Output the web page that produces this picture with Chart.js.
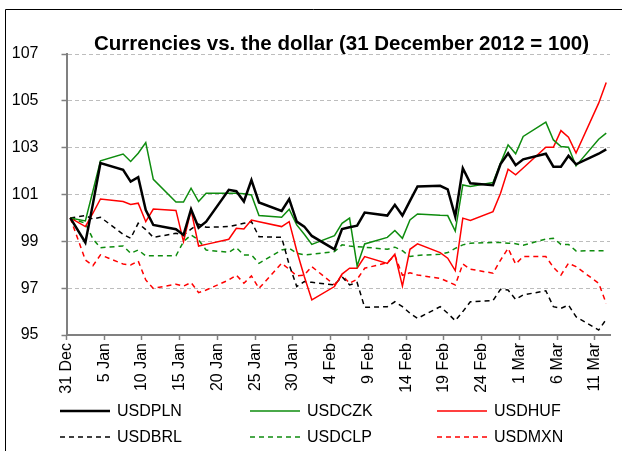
<!DOCTYPE html>
<html>
<head>
<meta charset="utf-8">
<script src="https://cdn.jsdelivr.net/npm/chart.js@4.4.1/dist/chart.umd.min.js"></script>
<style>
  html, body { margin: 0; padding: 0; background: #ffffff; }
  #chart { display: block; }
</style>
</head>
<body>
<canvas id="chart" width="627" height="451"></canvas>
<script>
// trading days plotted (31 Dec 2012 = 100)
const DATES = [
    "2012-12-31", "2013-01-02", "2013-01-03", "2013-01-04",
    "2013-01-07", "2013-01-08", "2013-01-09", "2013-01-10", "2013-01-11",
    "2013-01-14", "2013-01-15", "2013-01-16", "2013-01-17", "2013-01-18",
    "2013-01-21", "2013-01-22", "2013-01-23", "2013-01-24", "2013-01-25",
    "2013-01-28", "2013-01-29", "2013-01-30", "2013-01-31", "2013-02-01",
    "2013-02-04", "2013-02-05", "2013-02-06", "2013-02-07", "2013-02-08",
    "2013-02-11", "2013-02-12", "2013-02-13", "2013-02-14", "2013-02-15",
    "2013-02-18", "2013-02-19", "2013-02-20", "2013-02-21", "2013-02-22",
    "2013-02-25", "2013-02-26", "2013-02-27", "2013-02-28", "2013-03-01",
    "2013-03-04", "2013-03-05", "2013-03-06", "2013-03-07", "2013-03-08",
    "2013-03-11", "2013-03-12",
];

const USDPLN = [
    100.0, 98.95, 100.6, 102.34,
    102.05, 101.55, 101.74, 100.34, 99.7,
    99.52, 99.27, 100.37, 99.58, 99.84,
    101.2, 101.14, 100.7, 101.62, 100.66,
    100.3, 100.8, 99.84, 99.63, 99.23,
    98.66, 99.52, 99.6, 99.67, 100.23,
    100.1, 100.56, 100.1, 100.73, 101.34,
    101.37, 101.22, 100.06, 102.12, 101.48,
    101.4, 102.3, 102.76, 102.25, 102.5,
    102.74, 102.19, 102.19, 102.65, 102.29,
    102.74, 102.93,
];

const USDCZK = [
    100.0, 99.87, 101.15, 102.44,
    102.73, 102.41, 102.76, 103.22, 101.65,
    100.68, 100.68, 101.27, 100.7, 101.05,
    101.05, 101.05, 101.03, 100.98, 100.1,
    100.03, 100.37, 99.7, 99.3, 98.87,
    99.24, 99.77, 99.99, 97.95, 98.89,
    99.17, 99.46, 99.13, 99.91, 100.17,
    100.11, 100.1, 99.44, 101.41, 101.34,
    101.51, 102.34, 103.12, 102.74, 103.48,
    104.09, 103.33, 103.05, 103.02, 102.22,
    103.36, 103.62,
];

const USDHUF = [
    100.0, 99.63, 100.2, 100.81,
    100.7, 100.57, 100.63, 99.84, 100.38,
    100.32, 98.99, 100.34, 98.8, 98.87,
    99.09, 99.56, 99.53, 99.91, 99.84,
    99.63, 99.84, 98.6, 97.5, 96.5,
    97.07, 97.6, 97.85, 97.85, 98.35,
    98.06, 98.45, 97.09, 98.66, 98.89,
    98.52, 98.28, 97.75, 99.99, 99.89,
    100.27, 101.05, 102.08, 101.84, 102.13,
    103.02, 103.02, 103.73, 103.45, 102.77,
    104.9, 105.78,
];

const USDBRL = [
    100.0, 100.1, 99.95, 100.03,
    99.3, 99.13, 99.77, 99.5, 99.17,
    99.34, 99.27, 99.52, 99.74, 99.6,
    99.63, 99.7, 99.77, 99.84, 99.2,
    99.17, 98.0, 97.07, 97.28, 97.25,
    97.14, 97.49, 97.14, 97.24, 96.18,
    96.21, 96.42, 96.21, 95.93, 95.71,
    96.21, 95.93, 95.61, 96.0, 96.42,
    96.47, 96.95, 96.92, 96.52, 96.71,
    96.89, 96.21, 96.14, 96.28, 95.78,
    95.21, 95.67,
];

const USDCLP = [
    100.0, 99.77, 99.1, 98.73,
    98.8, 98.49, 98.63, 98.38, 98.38,
    98.38, 98.99, 99.27, 99.06, 98.63,
    98.53, 98.73, 98.42, 98.42, 98.06,
    98.63, 98.7, 98.49, 98.42, 98.45,
    98.56, 98.85, 98.8, 98.77, 98.75,
    98.66, 98.75, 98.6, 98.35, 98.4,
    98.45, 98.52, 98.7, 98.85, 98.92,
    98.95, 98.95, 98.92, 98.9, 98.83,
    99.1, 99.13, 98.87, 98.87, 98.59,
    98.6, 98.6,
];

const USDMXN = [
    100.0, 98.2, 97.96, 98.42,
    98.03, 97.99, 98.16, 97.35, 96.99,
    97.17, 97.09, 97.24, 96.81, 96.92,
    97.35, 97.56, 97.21, 97.52, 96.99,
    98.06, 97.81, 97.52, 97.56, 97.92,
    97.14, 97.56, 97.21, 97.38, 97.85,
    98.09, 98.4, 97.55, 97.66, 97.56,
    97.42, 97.28, 97.14, 98.03, 97.81,
    97.64, 98.2, 98.7, 98.03, 98.35,
    98.35, 97.89, 97.56, 98.06, 97.92,
    97.21, 96.35,
];

// x axis: days since 31 Dec, a tick every 5 days
const TICK_DAYS = [0, 5, 10, 15, 20, 25, 30, 35, 40, 45, 50, 55, 60, 65, 70];
const TICK_LABELS = [
    "31 Dec", "5 Jan", "10 Jan", "15 Jan", "20 Jan", "25 Jan", "30 Jan",
    "4 Feb", "9 Feb", "14 Feb", "19 Feb", "24 Feb", "1 Mar", "6 Mar", "11 Mar",
];
const Y_MIN = 95;
const Y_MAX = 107;
const Y_STEP = 2;

const TITLE = "Currencies vs. the dollar (31 December 2012 = 100)";
const FONT = "'Liberation Sans', Arial, Helvetica, sans-serif";
const GREEN = "#0e8c0e";

// labels in the original are set in a narrow face; use it when it is installed
function fontAvailable(name) {
    const probe = document.createElement("canvas").getContext("2d");
    const sample = "USDPLN 31 Dec 107";
    probe.font = "40px monospace";
    const fallback = probe.measureText(sample).width;
    probe.font = `40px '${name}', monospace`;
    return probe.measureText(sample).width !== fallback;
}

const HAS_NARROW = fontAvailable("Liberation Sans Narrow");
const LABEL_FONT = HAS_NARROW ? `'Liberation Sans Narrow', ${FONT}` : FONT;
const LABEL_SIZE = HAS_NARROW ? 19.5 : 16;

const SERIES = [
    { label: "USDPLN", values: USDPLN, color: "#000000", width: 2.5, dash: [] },
    { label: "USDCZK", values: USDCZK, color: GREEN, width: 1.5, dash: [] },
    { label: "USDHUF", values: USDHUF, color: "#ff0000", width: 1.5, dash: [] },
    { label: "USDBRL", values: USDBRL, color: "#000000", width: 1.5, dash: [5, 4] },
    { label: "USDCLP", values: USDCLP, color: GREEN, width: 1.5, dash: [5, 4] },
    { label: "USDMXN", values: USDMXN, color: "#ff0000", width: 1.5, dash: [5, 4] },
];

const BASE_DAY = Date.UTC(2012, 11, 31);

function dayOffset(iso) {
    const [y, m, d] = iso.split("-").map(Number);
    return (Date.UTC(y, m - 1, d) - BASE_DAY) / 86400000;
}

// date axis, points sit in the middle of their day slot
function buildDataset(series) {
    return {
        label: series.label,
        data: DATES.map((date, i) => ({ x: dayOffset(date) + 0.5, y: series.values[i] })),
        borderColor: series.color,
        backgroundColor: series.color,
        borderWidth: series.width,
        borderDash: series.dash,
        pointRadius: 0,
        pointHoverRadius: 0,
        tension: 0,
        fill: false,
    };
}

const decorPlugin = {
    id: "decor",
    beforeDraw(chart) {
        const { ctx, width, height } = chart;
        ctx.save();
        ctx.fillStyle = "#ffffff";
        ctx.fillRect(0, 0, width, height);
        ctx.restore();
    },
    afterDraw(chart) {
        const { ctx } = chart;
        ctx.save();

        // frame (only top and left edge are inside the picture)
        ctx.strokeStyle = "#000000";
        ctx.lineWidth = 1;
        ctx.beginPath();
        ctx.moveTo(5.5, 451);
        ctx.lineTo(5.5, 9.5);
        ctx.lineTo(622, 9.5);
        ctx.stroke();

        // title
        ctx.fillStyle = "#000000";
        ctx.font = `bold 20.5px ${FONT}`;
        ctx.textAlign = "center";
        ctx.textBaseline = "alphabetic";
        ctx.fillText(TITLE, 341.5, 50);

        // legend, 3 columns x 2 rows
        const colX = [60, 250, 437];
        const rowY = [411, 437];
        ctx.font = `${LABEL_SIZE}px ${LABEL_FONT}`;
        ctx.textAlign = "left";
        ctx.textBaseline = "middle";
        chart.data.datasets.forEach((ds, i) => {
            const x0 = colX[i % 3];
            const y = rowY[Math.floor(i / 3)];
            ctx.strokeStyle = ds.borderColor;
            ctx.lineWidth = ds.borderWidth;
            ctx.setLineDash(ds.borderDash);
            ctx.beginPath();
            ctx.moveTo(x0, y);
            ctx.lineTo(x0 + 50, y);
            ctx.stroke();
            ctx.setLineDash([]);
            ctx.fillStyle = "#000000";
            ctx.fillText(ds.label, x0 + 57, y + 1);
        });
        ctx.restore();
    },
};

Chart.defaults.font.family = LABEL_FONT;
Chart.defaults.font.size = LABEL_SIZE;
Chart.defaults.color = "#000000";

new Chart(document.getElementById("chart"), {
    type: "line",
    data: { datasets: SERIES.map(buildDataset) },
    options: {
        responsive: false,
        animation: false,
        devicePixelRatio: 1,
        events: [],
        layout: { padding: { top: 54, right: 17, bottom: 0, left: 0 } },
        plugins: {
            legend: { display: false },
            title: { display: false },
            tooltip: { enabled: false },
        },
        scales: {
            x: {
                type: "linear",
                min: 0,
                max: 72,
                afterBuildTicks(scale) {
                    scale.ticks = TICK_DAYS.map((value) => ({ value }));
                },
                afterFit(scale) {
                    scale.height = 116;
                },
                ticks: {
                    autoSkip: false,
                    minRotation: 90,
                    maxRotation: 90,
                    padding: 3,
                    callback(value) {
                        const i = TICK_DAYS.indexOf(value);
                        return i >= 0 ? TICK_LABELS[i] : "";
                    },
                },
                grid: {
                    drawOnChartArea: false,
                    drawTicks: true,
                    tickLength: 5,
                    tickColor: "#808080",
                    tickWidth: 1.5,
                },
                border: { color: "#808080", width: 2 },
            },
            y: {
                min: Y_MIN,
                max: Y_MAX,
                afterFit(scale) {
                    scale.width = 66.5;
                },
                ticks: {
                    stepSize: Y_STEP,
                    padding: 23,
                },
                grid: {
                    color: "#bdbdbd",
                    lineWidth: 1,
                    drawTicks: true,
                    tickLength: 5,
                    tickColor: "#808080",
                    tickWidth: 1.5,
                    tickBorderDash: [],
                },
                border: { color: "#808080", width: 2, dash: [4, 3] },
            },
        },
    },
    plugins: [decorPlugin],
});
</script>
</body>
</html>
